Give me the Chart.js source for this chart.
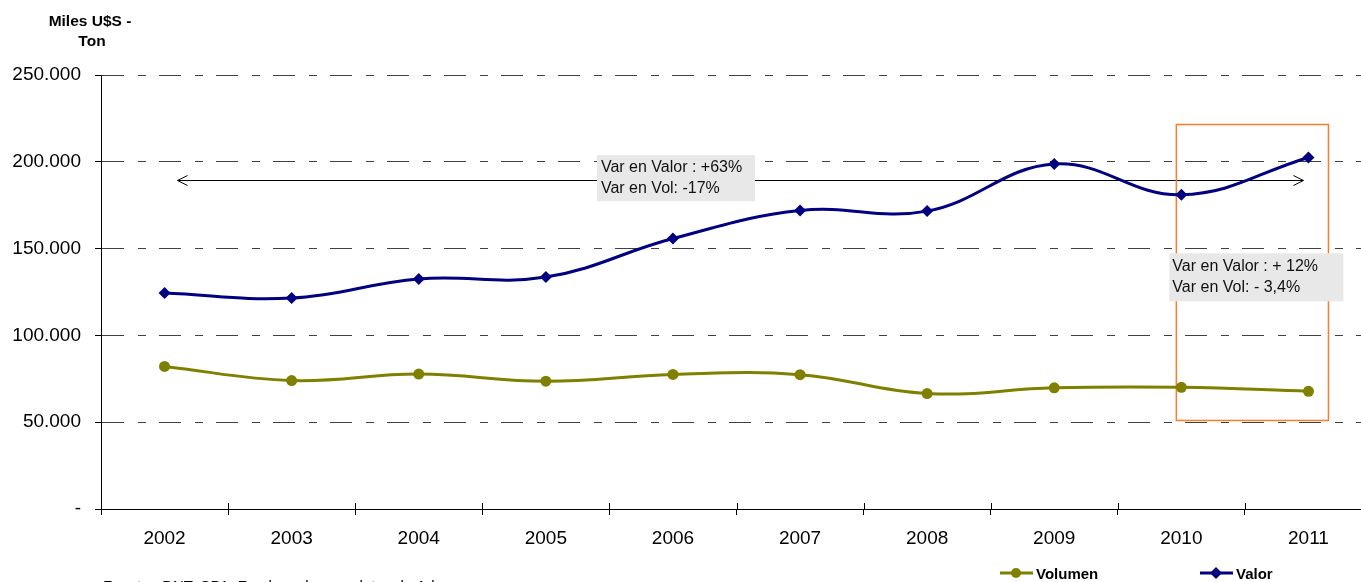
<!DOCTYPE html>
<html>
<head>
<meta charset="utf-8">
<script src="https://cdn.jsdelivr.net/npm/chart.js@4/dist/chart.umd.min.js"></script>
<style>
html,body{margin:0;padding:0;background:#fff;overflow:hidden;width:1361px;height:582px;}
#wrap{position:absolute;left:0;top:0;width:1380px;height:582px;}
</style>
</head>
<body>
<div id="wrap"><canvas id="c" width="1380" height="582"></canvas></div>
<script>
const years = ['2002','2003','2004','2005','2006','2007','2008','2009','2010','2011'];
const valor = [124400,121500,132500,133600,155800,172000,171600,198700,181000,202500];
const volumen = [82100,74000,77700,73600,77500,77400,66500,69800,70100,67800];
const yTicks = [0,50000,100000,150000,200000,250000];
const axisTitle = ['Miles U$S -','Ton'];
const noteTotal = ['Var en Valor : +63%','Var en Vol: -17%'];
const noteLast = ['Var en Valor : + 12%','Var en Vol: - 3,4%'];
const sourceText = 'Fuente : DNT, CPA, Fondo en base a datos de Aduana';

const FONT = '"Liberation Sans", Arial, sans-serif';
function fmt(v){ if(v===0) return '-'; return String(v).replace(/\B(?=(\d{3})+(?!\d))/g,'.'); }

const deco = {
  id:'deco',
  beforeDatasetsDraw(chart){
    const {ctx} = chart; const x = chart.scales.x, y = chart.scales.y;
    ctx.save();
    // x tick marks crossing the axis (upper half)
    ctx.strokeStyle='#000'; ctx.lineWidth=1;
    ctx.beginPath();
    for(let i=0;i<=years.length;i++){
      const px = Math.round(x.getPixelForValue(i-0.5))+0.5;
      ctx.moveTo(px,y.bottom-6); ctx.lineTo(px,y.bottom);
    }
    ctx.stroke();
    // double arrow
    const ay = Math.round(y.getPixelForValue(189800))+0.5;
    const ax1 = x.getPixelForValue(0)+13, ax2 = x.getPixelForValue(9)-5;
    ctx.beginPath(); ctx.moveTo(ax1,ay); ctx.lineTo(ax2,ay);
    ctx.moveTo(ax1+10,ay-5); ctx.lineTo(ax1,ay); ctx.lineTo(ax1+10,ay+5);
    ctx.moveTo(ax2-10,ay-5); ctx.lineTo(ax2,ay); ctx.lineTo(ax2-10,ay+5);
    ctx.stroke();
    // orange box
    ctx.strokeStyle='#ff7a2a'; ctx.lineWidth=1.5;
    const ox1 = x.getPixelForValue(8)-5, ox2 = x.getPixelForValue(9)+20;
    const oy1 = y.getPixelForValue(221500), oy2 = y.getPixelForValue(51000);
    ctx.strokeRect(ox1,oy1,ox2-ox1,oy2-oy1);
    // label boxes
    ctx.font = '16px '+FONT; ctx.textBaseline='middle'; ctx.textAlign='left';
    function box(bx,by,w,h,lines,tx,ly){
      ctx.fillStyle='#e8e8e8'; ctx.fillRect(bx,by,w,h);
      ctx.fillStyle='#111';
      lines.forEach((t,i)=>ctx.fillText(t,tx,ly[i]));
    }
    const b1x = x.getPixelForValue(4)-76, b1y = y.getPixelForValue(203800);
    box(b1x,b1y,158,46,noteTotal,b1x+4,[b1y+12,b1y+33]);
    const b2x = x.getPixelForValue(8)-12, b2y = y.getPixelForValue(147300);
    box(b2x,b2y,174,48,noteLast,b2x+3,[b2y+13,b2y+34]);
    ctx.restore();
  },
  afterDraw(chart){
    const {ctx} = chart;
    ctx.save();
    ctx.fillStyle='#000'; ctx.textAlign='center'; ctx.textBaseline='middle';
    ctx.font='bold 15.5px '+FONT;
    ctx.fillText(axisTitle[0],90,22);
    ctx.fillText(axisTitle[1],92,42);
    // legend
    const ds = chart.data.datasets;
    const items = [[ds[1],1000],[ds[0],1200]];
    ctx.font='bold 15px '+FONT; ctx.textAlign='left';
    items.forEach(([d,lx])=>{
      const ly = 573;
      ctx.strokeStyle=d.borderColor; ctx.lineWidth=3;
      ctx.beginPath(); ctx.moveTo(lx,ly); ctx.lineTo(lx+33,ly); ctx.stroke();
      ctx.fillStyle=d.borderColor;
      ctx.beginPath();
      if(d.pointStyle==='circle'){ ctx.arc(lx+16,ly,5,0,Math.PI*2); }
      else { ctx.moveTo(lx+16,ly-6); ctx.lineTo(lx+22,ly); ctx.lineTo(lx+16,ly+6); ctx.lineTo(lx+10,ly); ctx.closePath(); }
      ctx.fill();
      ctx.fillStyle='#000';
      ctx.fillText(d.label,lx+36,ly+2);
    });
    // source (cut off by the bottom edge, as in the original)
    ctx.font='15px '+FONT; ctx.textBaseline='top';
    ctx.fillText(sourceText,103,579);
    ctx.restore();
  }
};

new Chart(document.getElementById('c'),{
  type:'line',
  data:{
    labels:years,
    datasets:[
      {label:'Valor',data:valor,borderColor:'#000080',backgroundColor:'#000080',borderWidth:3,
       pointStyle:'rectRot',pointRadius:6,pointBorderWidth:0,pointBackgroundColor:'#000080',tension:0.4},
      {label:'Volumen',data:volumen,borderColor:'#808000',backgroundColor:'#808000',borderWidth:3,
       pointStyle:'circle',pointRadius:5.5,pointBorderWidth:0,pointBackgroundColor:'#808000',tension:0.4}
    ]
  },
  options:{
    responsive:false, animation:false, devicePixelRatio:1,
    layout:{padding:{left:0,right:8,top:75,bottom:0}},
    plugins:{legend:{display:false},tooltip:{enabled:false},title:{display:false}},
    scales:{
      x:{
        offset:true,
        grid:{display:true,drawOnChartArea:false,drawTicks:true,tickLength:6,color:'#000',offset:true},
        border:{display:true,color:'#000',width:1},
        ticks:{color:'#000',font:{family:FONT,size:19},padding:12,maxRotation:0,autoSkip:false},
        afterFit(s){ s.height = 73; }
      },
      y:{
        min:0,max:250000,
        afterBuildTicks(s){ s.ticks = yTicks.map(v=>({value:v})); },
        grid:{color:'#404040',lineWidth:1,drawTicks:true,tickLength:6,tickColor:'#000'},
        border:{display:true,color:'#000',width:1,dash:[22,14,8,13]},
        ticks:{color:'#000',font:{family:FONT,size:19},padding:14,callback:v=>fmt(v)},
        afterFit(s){ s.width = 101; }
      }
    }
  },
  plugins:[deco]
});
</script>
</body>
</html>
